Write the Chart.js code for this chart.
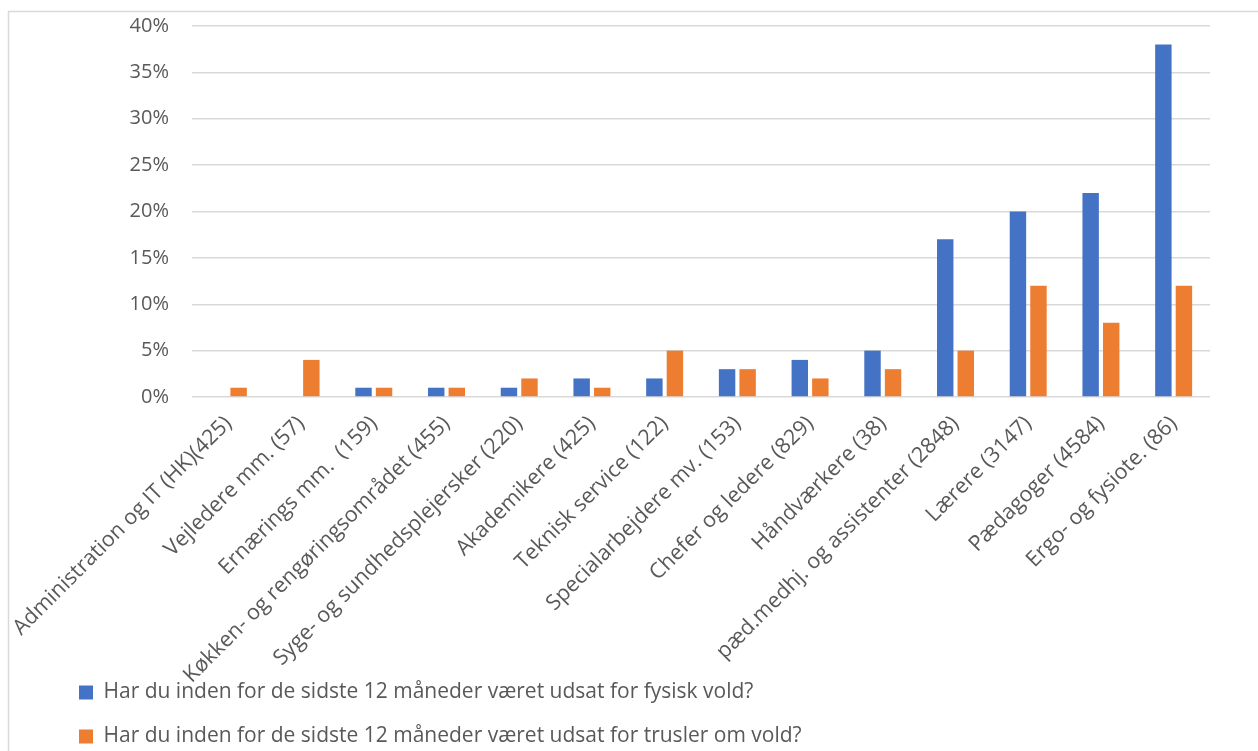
<!DOCTYPE html>
<html lang="da">
<head>
<meta charset="utf-8">
<title>Vold og trusler</title>
<script src="https://cdn.jsdelivr.net/npm/chart.js@4"></script>
<style>
  html, body { margin: 0; padding: 0; background: #fff; }
  canvas { display: block; }
</style>
</head>
<body>
<canvas id="myChart" width="1258" height="751"></canvas>
<script>
const categories = [
  "Administration og IT (HK)(425)",
  "Vejledere mm. (57)",
  "Ernærings mm.  (159)",
  "Køkken- og rengøringsområdet (455)",
  "Syge- og sundhedsplejersker (220)",
  "Akademikere (425)",
  "Teknisk service (122)",
  "Specialarbejdere mv. (153)",
  "Chefer og ledere (829)",
  "Håndværkere (38)",
  "pæd.medhj. og assistenter (2848)",
  "Lærere (3147)",
  "Pædagoger (4584)",
  "Ergo- og fysiote. (86)"
];
const fysiskVold = [0, 0, 1, 1, 1, 2, 2, 3, 4, 5, 17, 20, 22, 38];
const trusler = [1, 4, 1, 1, 2, 1, 5, 3, 2, 3, 5, 12, 8, 12];
const yTicks = [0, 5, 10, 15, 20, 25, 30, 35, 40];

const seriesNames = [
  "Har du inden for de sidste 12 måneder været udsat for fysisk vold?",
  "Har du inden for de sidste 12 måneder været udsat for trusler om vold?"
];

const textColor = "#595959";
const gridColor = "#d9d9d9";
const fontFamily = "'Open Sans', 'Noto Sans', sans-serif";
const labelSize = 21.5;

// thin frame round the whole chart
const frame = {
  id: "frame",
  beforeDraw(chart) {
    const c = chart.ctx;
    c.save();
    c.fillStyle = "#fff";
    c.fillRect(0, 0, chart.width, chart.height);
    c.strokeStyle = gridColor;
    c.lineWidth = 1.5;
    c.strokeRect(8.5, 11.5, chart.width + 20, chart.height + 20);
    c.restore();
  }
};

// let the slanted category labels run down past the axis box
const longLabels = {
  id: "longLabels",
  afterLayout(chart) {
    chart.scales.x.bottom = chart.height;
  }
};

const ctx = document.getElementById("myChart");
Chart.defaults.font.family = fontFamily;
Chart.defaults.color = textColor;

const chart = new Chart(ctx, {
  type: "bar",
  data: {
    labels: categories,
    datasets: [
      {
        label: seriesNames[0],
        data: fysiskVold,
        backgroundColor: "#4472C4",
        categoryPercentage: 0.565,
        barPercentage: 0.8
      },
      {
        label: seriesNames[1],
        data: trusler,
        backgroundColor: "#ED7D31",
        categoryPercentage: 0.565,
        barPercentage: 0.8
      }
    ]
  },
  options: {
    responsive: false,
    animation: false,
    layout: {
      padding: { left: 56, right: 48, top: 26, bottom: -6 }
    },
    plugins: {
      tooltip: { enabled: false },
      legend: {
        position: "bottom",
        align: "start",
        labels: {
          boxWidth: 14,
          boxHeight: 14,
          padding: 23,
          color: textColor,
          font: { size: 21 }
        }
      }
    },
    scales: {
      x: {
        grid: { display: false },
        border: { display: false },
        ticks: {
          autoSkip: false,
          minRotation: 45,
          maxRotation: 45,
          padding: 6,
          color: textColor,
          font: { size: labelSize }
        },
        afterFit: (axis) => { axis.height = 262; }
      },
      y: {
        min: 0,
        max: 40,
        grid: { color: gridColor, lineWidth: 1.5, drawTicks: false },
        border: { display: false },
        afterBuildTicks: (axis) => { axis.ticks = yTicks.map(v => ({ value: v })); },
        ticks: {
          padding: 23,
          color: textColor,
          font: { size: 20 },
          callback: (v) => v + "%"
        },
        afterFit: (axis) => {
          axis.width = 136;
          axis.paddingTop = 12;
          axis.paddingBottom = 12;
        }
      }
    }
  },
  plugins: [frame, longLabels]
});
</script>
</body>
</html>
